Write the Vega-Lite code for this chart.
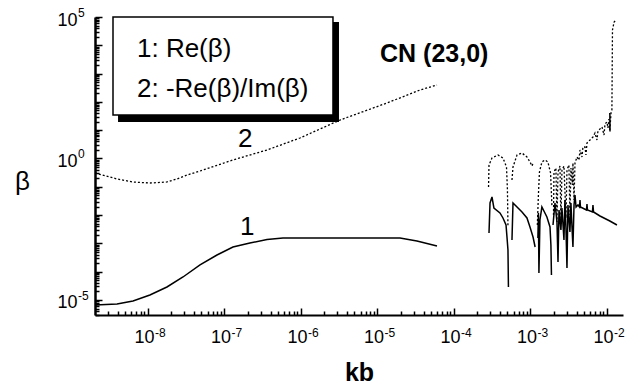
{
  "$schema": "https://vega.github.io/schema/vega-lite/v6.json",
  "width": 528,
  "height": 298,
  "autosize": {"type": "none"},
  "padding": {"left": 95, "top": 17, "right": 18, "bottom": 73},
  "background": "white",
  "config": {"view": {"stroke": null}, "font": "Liberation Sans"},
  "datasets": {
    "lines": [
      {"c": "1", "s": "a", "kb": 2.03e-9, "beta": 6.65e-6},
      {"c": "1", "s": "a", "kb": 3.94e-9, "beta": 7.23e-6},
      {"c": "1", "s": "a", "kb": 6.37e-9, "beta": 9.23e-6},
      {"c": "1", "s": "a", "kb": 1.06e-8, "beta": 1.50e-5},
      {"c": "1", "s": "a", "kb": 1.77e-8, "beta": 2.88e-5},
      {"c": "1", "s": "a", "kb": 2.87e-8, "beta": 6.50e-5},
      {"c": "1", "s": "a", "kb": 4.79e-8, "beta": 1.73e-4},
      {"c": "1", "s": "a", "kb": 7.98e-8, "beta": 3.89e-4},
      {"c": "1", "s": "a", "kb": 1.29e-7, "beta": 7.46e-4},
      {"c": "1", "s": "a", "kb": 2.15e-7, "beta": 1.03e-3},
      {"c": "1", "s": "a", "kb": 3.60e-7, "beta": 1.37e-3},
      {"c": "1", "s": "a", "kb": 5.82e-7, "beta": 1.55e-3},
      {"c": "1", "s": "a", "kb": 2.39e-6, "beta": 1.56e-3},
      {"c": "1", "s": "a", "kb": 1.97e-5, "beta": 1.56e-3},
      {"c": "1", "s": "a", "kb": 3.28e-5, "beta": 1.22e-3},
      {"c": "1", "s": "a", "kb": 6.00e-5, "beta": 8.09e-4},

      {"c": "1", "s": "b", "kb": 2.87e-4, "beta": 2.33e-3},
      {"c": "1", "s": "b", "kb": 2.96e-4, "beta": 0.0268},
      {"c": "1", "s": "b", "kb": 3.14e-4, "beta": 0.0436},
      {"c": "1", "s": "b", "kb": 3.33e-4, "beta": 0.0178},
      {"c": "1", "s": "b", "kb": 3.99e-4, "beta": 0.0119},
      {"c": "1", "s": "b", "kb": 4.37e-4, "beta": 7.91e-3},
      {"c": "1", "s": "b", "kb": 4.79e-4, "beta": 4.47e-3},
      {"c": "1", "s": "b", "kb": 4.93e-4, "beta": 1.68e-3},
      {"c": "1", "s": "b", "kb": 5.08e-4, "beta": 5.85e-4},
      {"c": "1", "s": "b", "kb": 5.15e-4, "beta": 2.88e-5},

      {"c": "1", "s": "c", "kb": 5.73e-4, "beta": 1.32e-3},
      {"c": "1", "s": "c", "kb": 5.91e-4, "beta": 0.0268},
      {"c": "1", "s": "c", "kb": 6.67e-4, "beta": 0.0193},
      {"c": "1", "s": "c", "kb": 7.75e-4, "beta": 0.0129},
      {"c": "1", "s": "c", "kb": 9.00e-4, "beta": 7.91e-3},
      {"c": "1", "s": "c", "kb": 9.85e-4, "beta": 3.80e-3},
      {"c": "1", "s": "c", "kb": 1.08e-3, "beta": 1.68e-3},
      {"c": "1", "s": "c", "kb": 1.15e-3, "beta": 7.46e-4},

      {"c": "1", "s": "d", "kb": 1.25e-3, "beta": 1.55e-3},
      {"c": "1", "s": "d", "kb": 1.27e-3, "beta": 0.0119},
      {"c": "1", "s": "d", "kb": 1.29e-3, "beta": 9.00e-5},
      {"c": "1", "s": "d", "kb": 1.33e-3, "beta": 6.71e-3},
      {"c": "1", "s": "d", "kb": 1.41e-3, "beta": 0.0193},
      {"c": "1", "s": "d", "kb": 1.64e-3, "beta": 8.57e-3},
      {"c": "1", "s": "d", "kb": 1.80e-3, "beta": 3.80e-3},
      {"c": "1", "s": "d", "kb": 1.85e-3, "beta": 8.77e-4},
      {"c": "1", "s": "d", "kb": 1.88e-3, "beta": 7.64e-5},

      {"c": "1", "s": "e", "kb": 1.97e-3, "beta": 4.47e-3},
      {"c": "1", "s": "e", "kb": 2.09e-3, "beta": 0.0268},
      {"c": "1", "s": "e", "kb": 2.22e-3, "beta": 5.70e-3},
      {"c": "1", "s": "e", "kb": 2.29e-3, "beta": 2.20e-4},
      {"c": "1", "s": "e", "kb": 2.36e-3, "beta": 0.0151},
      {"c": "1", "s": "e", "kb": 2.50e-3, "beta": 2.97e-3},
      {"c": "1", "s": "e", "kb": 2.58e-3, "beta": 0.0178},
      {"c": "1", "s": "e", "kb": 2.74e-3, "beta": 1.32e-3},
      {"c": "1", "s": "e", "kb": 2.82e-3, "beta": 0.0342},
      {"c": "1", "s": "e", "kb": 2.91e-3, "beta": 3.50e-3},
      {"c": "1", "s": "e", "kb": 3.00e-3, "beta": 1.35e-4},
      {"c": "1", "s": "e", "kb": 3.09e-3, "beta": 0.0228},
      {"c": "1", "s": "e", "kb": 3.28e-3, "beta": 2.53e-3},
      {"c": "1", "s": "e", "kb": 3.38e-3, "beta": 0.0268},
      {"c": "1", "s": "e", "kb": 3.48e-3, "beta": 4.47e-3},
      {"c": "1", "s": "e", "kb": 3.59e-3, "beta": 7.46e-4},
      {"c": "1", "s": "e", "kb": 3.71e-3, "beta": 0.0228},
      {"c": "1", "s": "e", "kb": 3.82e-3, "beta": 0.0513},
      {"c": "1", "s": "e", "kb": 3.94e-3, "beta": 0.0193},
      {"c": "1", "s": "e", "kb": 4.18e-3, "beta": 0.0228},
      {"c": "1", "s": "e", "kb": 4.38e-3, "beta": 0.0193},
      {"c": "1", "s": "e", "kb": 4.44e-3, "beta": 0.0342},
      {"c": "1", "s": "e", "kb": 4.50e-3, "beta": 0.0193},
      {"c": "1", "s": "e", "kb": 5.40e-3, "beta": 0.0151},
      {"c": "1", "s": "e", "kb": 5.48e-3, "beta": 0.0247},
      {"c": "1", "s": "e", "kb": 5.56e-3, "beta": 0.0151},
      {"c": "1", "s": "e", "kb": 6.46e-3, "beta": 0.0129},
      {"c": "1", "s": "e", "kb": 6.56e-3, "beta": 0.0228},
      {"c": "1", "s": "e", "kb": 6.67e-3, "beta": 0.0129},
      {"c": "1", "s": "e", "kb": 8.10e-3, "beta": 9.29e-3},
      {"c": "1", "s": "e", "kb": 1.09e-2, "beta": 6.19e-3},
      {"c": "1", "s": "e", "kb": 1.35e-2, "beta": 4.47e-3},

      {"c": "1", "s": "f", "kb": 1.09e-2, "beta": 40.6},
      {"c": "1", "s": "f", "kb": 1.095e-2, "beta": 9.0},

      {"c": "2", "s": "a", "kb": 2.03e-9, "beta": 0.308},
      {"c": "2", "s": "a", "kb": 3.94e-9, "beta": 0.189},
      {"c": "2", "s": "a", "kb": 6.37e-9, "beta": 0.148},
      {"c": "2", "s": "a", "kb": 1.06e-8, "beta": 0.136},
      {"c": "2", "s": "a", "kb": 1.77e-8, "beta": 0.148},
      {"c": "2", "s": "a", "kb": 2.39e-8, "beta": 0.189},
      {"c": "2", "s": "a", "kb": 3.24e-8, "beta": 0.261},
      {"c": "2", "s": "a", "kb": 4.79e-8, "beta": 0.361},
      {"c": "2", "s": "a", "kb": 1.29e-7, "beta": 0.885},
      {"c": "2", "s": "a", "kb": 3.60e-7, "beta": 2.00},
      {"c": "2", "s": "a", "kb": 9.70e-7, "beta": 5.30},
      {"c": "2", "s": "a", "kb": 3.24e-6, "beta": 22.9},
      {"c": "2", "s": "a", "kb": 1.33e-5, "beta": 91.4},
      {"c": "2", "s": "a", "kb": 3.60e-5, "beta": 263},
      {"c": "2", "s": "a", "kb": 6.00e-5, "beta": 395},

      {"c": "2", "s": "b", "kb": 2.83e-4, "beta": 0.0984},
      {"c": "2", "s": "b", "kb": 2.87e-4, "beta": 0.589},
      {"c": "2", "s": "b", "kb": 3.14e-4, "beta": 1.04},
      {"c": "2", "s": "b", "kb": 3.76e-4, "beta": 1.33},
      {"c": "2", "s": "b", "kb": 4.37e-4, "beta": 1.04},
      {"c": "2", "s": "b", "kb": 4.86e-4, "beta": 0.501},
      {"c": "2", "s": "b", "kb": 5.00e-4, "beta": 0.0771},
      {"c": "2", "s": "b", "kb": 5.08e-4, "beta": 3.80e-3},

      {"c": "2", "s": "c", "kb": 5.73e-4, "beta": 0.174},
      {"c": "2", "s": "c", "kb": 5.91e-4, "beta": 0.501},
      {"c": "2", "s": "c", "kb": 6.67e-4, "beta": 1.33},
      {"c": "2", "s": "c", "kb": 7.75e-4, "beta": 1.56},
      {"c": "2", "s": "c", "kb": 9.00e-4, "beta": 1.13},
      {"c": "2", "s": "c", "kb": 9.85e-4, "beta": 0.752},
      {"c": "2", "s": "c", "kb": 1.05e-3, "beta": 0.543},
      {"c": "2", "s": "c", "kb": 1.08e-3, "beta": 0.693},

      {"c": "2", "s": "d", "kb": 1.23e-3, "beta": 4.47e-3},
      {"c": "2", "s": "d", "kb": 1.27e-3, "beta": 0.0513},
      {"c": "2", "s": "d", "kb": 1.31e-3, "beta": 0.333},
      {"c": "2", "s": "d", "kb": 1.41e-3, "beta": 0.752},
      {"c": "2", "s": "d", "kb": 1.55e-3, "beta": 0.885},
      {"c": "2", "s": "d", "kb": 1.69e-3, "beta": 0.752},
      {"c": "2", "s": "d", "kb": 1.83e-3, "beta": 0.308},
      {"c": "2", "s": "d", "kb": 1.91e-3, "beta": 0.0193},

      {"c": "2", "s": "e", "kb": 2.00e-3, "beta": 0.0101},
      {"c": "2", "s": "e", "kb": 2.03e-3, "beta": 0.333},
      {"c": "2", "s": "e", "kb": 2.15e-3, "beta": 0.461},
      {"c": "2", "s": "e", "kb": 2.22e-3, "beta": 5.70e-3},
      {"c": "2", "s": "e", "kb": 2.29e-3, "beta": 0.333},
      {"c": "2", "s": "e", "kb": 2.43e-3, "beta": 0.543},
      {"c": "2", "s": "e", "kb": 2.50e-3, "beta": 5.70e-3},
      {"c": "2", "s": "e", "kb": 2.58e-3, "beta": 0.393},
      {"c": "2", "s": "e", "kb": 2.74e-3, "beta": 0.543},
      {"c": "2", "s": "e", "kb": 2.91e-3, "beta": 7.91e-3},
      {"c": "2", "s": "e", "kb": 3.00e-3, "beta": 0.393},
      {"c": "2", "s": "e", "kb": 3.18e-3, "beta": 0.589},
      {"c": "2", "s": "e", "kb": 3.28e-3, "beta": 0.0101},
      {"c": "2", "s": "e", "kb": 3.38e-3, "beta": 0.461},
      {"c": "2", "s": "e", "kb": 3.54e-3, "beta": 0.116},
      {"c": "2", "s": "e", "kb": 3.59e-3, "beta": 0.693},
      {"c": "2", "s": "e", "kb": 3.71e-3, "beta": 0.0342},
      {"c": "2", "s": "e", "kb": 3.82e-3, "beta": 0.693},
      {"c": "2", "s": "e", "kb": 4.06e-3, "beta": 1.13},
      {"c": "2", "s": "e", "kb": 4.31e-3, "beta": 0.885},
      {"c": "2", "s": "e", "kb": 4.44e-3, "beta": 2.00},
      {"c": "2", "s": "e", "kb": 4.71e-3, "beta": 1.13},
      {"c": "2", "s": "e", "kb": 4.85e-3, "beta": 2.55},
      {"c": "2", "s": "e", "kb": 5.16e-3, "beta": 2.55},
      {"c": "2", "s": "e", "kb": 5.31e-3, "beta": 1.33},
      {"c": "2", "s": "e", "kb": 5.48e-3, "beta": 3.53},
      {"c": "2", "s": "e", "kb": 6.00e-3, "beta": 4.51},
      {"c": "2", "s": "e", "kb": 6.56e-3, "beta": 5.75},
      {"c": "2", "s": "e", "kb": 6.97e-3, "beta": 7.96},
      {"c": "2", "s": "e", "kb": 7.40e-3, "beta": 4.51},
      {"c": "2", "s": "e", "kb": 7.62e-3, "beta": 9.38},
      {"c": "2", "s": "e", "kb": 8.61e-3, "beta": 13.0},
      {"c": "2", "s": "e", "kb": 9.15e-3, "beta": 6.76},
      {"c": "2", "s": "e", "kb": 9.42e-3, "beta": 16.6},
      {"c": "2", "s": "e", "kb": 1.00e-2, "beta": 19.5},
      {"c": "2", "s": "e", "kb": 1.03e-2, "beta": 12.0},
      {"c": "2", "s": "e", "kb": 1.06e-2, "beta": 24.9},
      {"c": "2", "s": "e", "kb": 1.09e-2, "beta": 10.2},
      {"c": "2", "s": "e", "kb": 1.13e-2, "beta": 40.6},
      {"c": "2", "s": "e", "kb": 1.16e-2, "beta": 51.8},
      {"c": "2", "s": "e", "kb": 1.18e-2, "beta": 3.47e4},
      {"c": "2", "s": "e", "kb": 1.24e-2, "beta": 6.65e4},
      {"c": "2", "s": "e", "kb": 1.31e-2, "beta": 7.83e4}
    ],
    "boxes": [
      {"part": "shadow", "kb": 4.06e-9, "kb2": 3.14e-6, "beta": 6.65e4, "beta2": 19.5},
      {"part": "box", "kb": 3.49e-9, "kb2": 2.62e-6, "beta": 1e5, "beta2": 34.4}
    ],
    "labels": [
      {"label": "1: Re(β)", "kb": 7.18e-9, "beta": 3866, "w": "normal"},
      {"label": "2: -Re(β)/Im(β)", "kb": 7.18e-9, "beta": 149, "w": "normal"},
      {"label": "1", "kb": 1.60e-7, "beta": 1.98e-3, "w": "normal"},
      {"label": "2", "kb": 1.50e-7, "beta": 2.55, "w": "normal"},
      {"label": "CN (23,0)", "kb": 1.08e-5, "beta": 2570, "w": "bold"}
    ],
    "xexp": [
      {"kb": 1e-8, "beta": 2.95e-6, "e": "-8"}, {"kb": 1e-7, "beta": 2.95e-6, "e": "-7"},
      {"kb": 1e-6, "beta": 2.95e-6, "e": "-6"}, {"kb": 1e-5, "beta": 2.95e-6, "e": "-5"},
      {"kb": 1e-4, "beta": 2.95e-6, "e": "-4"}, {"kb": 1e-3, "beta": 2.95e-6, "e": "-3"},
      {"kb": 1e-2, "beta": 2.95e-6, "e": "-2"}
    ],
    "yexp": [
      {"kb": 2.03e-9, "beta": 1e-5, "e": "-5"},
      {"kb": 2.03e-9, "beta": 1, "e": "0"},
      {"kb": 2.03e-9, "beta": 1e5, "e": "5"}
    ]
  },
  "encoding": {
    "x": {
      "field": "kb",
      "type": "quantitative",
      "scale": {"type": "log", "domain": [2.03e-9, 1.62e-2], "nice": false},
      "axis": {
        "title": "kb",
        "titleFont": "Liberation Sans",
        "titleFontSize": 25,
        "titleFontWeight": "bold",
        "titleColor": "black",
        "titleBaseline": "alphabetic",
        "titleY": 65,
        "grid": false,
        "domainColor": "black",
        "domainWidth": 2,
        "tickColor": "black",
        "tickWidth": 1.5,
        "tickSize": {"condition": {"test": "abs(log(datum.value)/LN10 - round(log(datum.value)/LN10)) < 0.01", "value": -7}, "value": -4},
        "values": [3e-9, 4e-9, 5e-9, 6e-9, 7e-9, 8e-9, 9e-9,
                   1e-8, 2e-8, 3e-8, 4e-8, 5e-8, 6e-8, 7e-8, 8e-8, 9e-8,
                   1e-7, 2e-7, 3e-7, 4e-7, 5e-7, 6e-7, 7e-7, 8e-7, 9e-7,
                   1e-6, 2e-6, 3e-6, 4e-6, 5e-6, 6e-6, 7e-6, 8e-6, 9e-6,
                   1e-5, 2e-5, 3e-5, 4e-5, 5e-5, 6e-5, 7e-5, 8e-5, 9e-5,
                   1e-4, 2e-4, 3e-4, 4e-4, 5e-4, 6e-4, 7e-4, 8e-4, 9e-4,
                   1e-3, 2e-3, 3e-3, 4e-3, 5e-3, 6e-3, 7e-3, 8e-3, 9e-3,
                   1e-2],
        "labelExpr": "abs(log(datum.value)/LN10 - round(log(datum.value)/LN10)) < 0.01 ? '10' : ''",
        "labelFont": "Liberation Sans",
        "labelFontSize": 18,
        "labelColor": "black",
        "labelAlign": "right",
        "labelBaseline": "alphabetic",
        "labelOffset": 6,
        "labelPadding": 34,
        "labelOverlap": false,
        "labelFlush": false
      }
    },
    "y": {
      "field": "beta",
      "type": "quantitative",
      "scale": {"type": "log", "domain": [2.95e-6, 1e5], "nice": false},
      "axis": {
        "title": "β",
        "titleFont": "Liberation Sans",
        "titleFontSize": 26,
        "titleFontWeight": "normal",
        "titleColor": "black",
        "titleAngle": 0,
        "titleAlign": "center",
        "titleBaseline": "alphabetic",
        "titleX": -73,
        "titleY": 172,
        "grid": false,
        "domainColor": "black",
        "domainWidth": 2.5,
        "tickColor": "black",
        "tickWidth": 1.5,
        "tickSize": {"condition": {"test": "abs(log(datum.value)/LN10 - round(log(datum.value)/LN10)) < 0.01", "value": -7}, "value": -4},
        "values": [3e-6, 4e-6, 5e-6, 6e-6, 7e-6, 8e-6, 9e-6,
                   1e-5, 2e-5, 3e-5, 4e-5, 5e-5, 6e-5, 7e-5, 8e-5, 9e-5,
                   1e-4, 2e-4, 3e-4, 4e-4, 5e-4, 6e-4, 7e-4, 8e-4, 9e-4,
                   1e-3, 2e-3, 3e-3, 4e-3, 5e-3, 6e-3, 7e-3, 8e-3, 9e-3,
                   1e-2, 2e-2, 3e-2, 4e-2, 5e-2, 6e-2, 7e-2, 8e-2, 9e-2,
                   1e-1, 2e-1, 3e-1, 4e-1, 5e-1, 6e-1, 7e-1, 8e-1, 9e-1,
                   1, 2, 3, 4, 5, 6, 7, 8, 9,
                   10, 20, 30, 40, 50, 60, 70, 80, 90,
                   100, 200, 300, 400, 500, 600, 700, 800, 900,
                   1000, 2000, 3000, 4000, 5000, 6000, 7000, 8000, 9000,
                   10000, 20000, 30000, 40000, 50000, 60000, 70000, 80000, 90000,
                   100000],
        "labelExpr": "abs(log(datum.value)/LN10) < 0.01 || abs(log(datum.value)/LN10 - 5) < 0.01 || abs(log(datum.value)/LN10 + 5) < 0.01 ? '10' : ''",
        "labelFont": "Liberation Sans",
        "labelFontSize": 18,
        "labelColor": "black",
        "labelAlign": "right",
        "labelBaseline": "middle",
        "labelOffset": 3,
        "labelPadding": 25,
        "labelOverlap": false,
        "labelFlush": false
      }
    }
  },
  "layer": [
    {
      "data": {"name": "boxes"},
      "transform": [{"filter": "datum.part == 'shadow'"}],
      "mark": {"type": "rect", "fill": "black", "stroke": null},
      "encoding": {"x2": {"field": "kb2"}, "y2": {"field": "beta2"}}
    },
    {
      "data": {"name": "boxes"},
      "transform": [{"filter": "datum.part == 'box'"}],
      "mark": {"type": "rect", "fill": "white", "stroke": "black", "strokeWidth": 1.5},
      "encoding": {"x2": {"field": "kb2"}, "y2": {"field": "beta2"}}
    },
    {
      "data": {"name": "lines"},
      "transform": [{"filter": "datum.c == '1'"}],
      "mark": {"type": "line", "color": "black", "strokeWidth": 1.5},
      "encoding": {"detail": {"field": "s"}}
    },
    {
      "data": {"name": "lines"},
      "transform": [{"filter": "datum.c == '2'"}],
      "mark": {"type": "line", "color": "black", "strokeWidth": 1.3, "strokeDash": [2, 2]},
      "encoding": {"detail": {"field": "s"}}
    },
    {
      "data": {"name": "labels"},
      "transform": [{"filter": "datum.w == 'normal'"}],
      "mark": {"type": "text", "align": "left", "baseline": "alphabetic", "font": "Liberation Sans", "fontSize": 26, "color": "black"},
      "encoding": {"text": {"field": "label"}}
    },
    {
      "data": {"name": "labels"},
      "transform": [{"filter": "datum.w == 'bold'"}],
      "mark": {"type": "text", "align": "left", "baseline": "alphabetic", "font": "Liberation Sans", "fontSize": 25, "fontWeight": "bold", "color": "black"},
      "encoding": {"text": {"field": "label"}}
    },
    {
      "data": {"name": "xexp"},
      "mark": {"type": "text", "align": "left", "baseline": "alphabetic", "font": "Liberation Sans", "fontSize": 12, "color": "black", "dx": 7, "dy": 22},
      "encoding": {"text": {"field": "e", "type": "nominal"}}
    },
    {
      "data": {"name": "yexp"},
      "mark": {"type": "text", "align": "left", "baseline": "middle", "font": "Liberation Sans", "fontSize": 12, "color": "black", "dx": -17, "dy": -4},
      "encoding": {"text": {"field": "e", "type": "nominal"}}
    }
  ]
}
